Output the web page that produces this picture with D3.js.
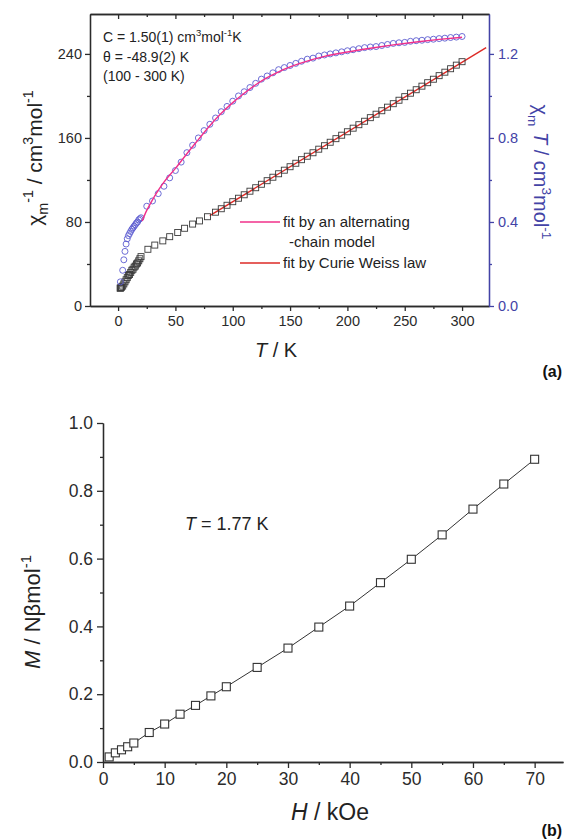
<!DOCTYPE html>
<html>
<head>
<meta charset="utf-8">
<script src="https://cdn.jsdelivr.net/npm/d3@7"></script>
<style>
  body { margin: 0; background: #fff; }
  text { font-family: Arial, "Liberation Sans", sans-serif; }
</style>
</head>
<body>
<div id="chart"></div>
<script>
// ---- panel (a): inverse susceptibility (squares) and chi*T (circles) vs T
const sqT = [1.8, 2, 2.5, 3, 4, 5, 6, 7, 8, 9, 10, 11, 12, 13, 14, 15, 16, 17, 18, 19, 20,
  26, 32, 39, 45, 52, 58, 65, 71, 78,
  85, 90, 95, 100, 105, 110, 115, 120, 125, 130, 135, 140, 145, 150, 155, 160, 165, 170, 175, 180,
  185, 190, 195, 200, 205, 210, 215, 220, 225, 230, 235, 240, 245, 250, 255, 260, 265, 270, 275, 280,
  285, 290, 295, 300]
const sqInv = [17, 17, 17.5, 18, 19, 21, 23, 25, 27, 29, 30, 32, 34, 35, 37, 38, 40, 41, 43, 45, 47,
  54, 58, 62, 66, 70, 74, 78, 81, 85,
  89.3, 92.6, 95.9, 99.3, 102.6, 105.9, 109.3, 112.6, 115.9, 119.3, 122.6, 125.9, 129.3, 132.6, 135.9,
  139.3, 142.6, 145.9, 149.3, 152.6, 155.9, 159.3, 162.6, 165.9, 169.3, 172.6, 175.9, 179.3, 182.6, 185.9,
  189.3, 192.6, 195.9, 199.3, 202.6, 205.9, 209.3, 212.6, 215.9, 219.3, 222.6, 225.9, 229.3, 232.6]

const ciT = [2, 4, 5, 6, 7, 8, 9, 10, 11, 12, 13, 14, 15, 16, 17, 18, 19, 20,
  25, 30, 35, 40, 45, 50, 55, 60, 65, 70, 75, 80, 85, 90, 95, 100, 105, 110, 115, 120,
  125, 130, 135, 140, 145, 150, 155, 160, 165, 170, 175, 180, 185, 190, 195, 200, 205, 210,
  215, 220, 225, 230, 235, 240, 245, 250, 255, 260, 265, 270, 275, 280, 285, 290, 295, 300]
const ciChiT = [0.115, 0.17, 0.22, 0.26, 0.295, 0.32, 0.335, 0.345, 0.355, 0.365, 0.372, 0.38, 0.387, 0.395, 0.40, 0.41, 0.415, 0.42,
  0.475, 0.50, 0.535, 0.57, 0.61, 0.645, 0.685, 0.73, 0.765, 0.80, 0.835, 0.865, 0.895, 0.925, 0.95, 0.975, 1.0, 1.02, 1.04, 1.06,
  1.08, 1.095, 1.11, 1.125, 1.135, 1.145, 1.155, 1.165, 1.175, 1.18, 1.19, 1.195, 1.20, 1.205, 1.21, 1.215, 1.22, 1.225,
  1.23, 1.233, 1.235, 1.24, 1.245, 1.25, 1.253, 1.255, 1.26, 1.263, 1.265, 1.268, 1.27, 1.273, 1.275, 1.278, 1.28, 1.283]

// alternating-chain fit (pink) and Curie-Weiss fit (red)
const fitT = [21, 25, 30, 35, 40, 50, 60, 70, 80, 90, 100, 110, 120, 130, 140, 150, 160, 180, 200, 220, 240, 260, 280, 300]
const fitChiT = [0.405, 0.455, 0.505, 0.55, 0.59, 0.655, 0.725, 0.792, 0.858, 0.917, 0.968, 1.013, 1.053, 1.087, 1.115, 1.138,
  1.157, 1.188, 1.209, 1.227, 1.243, 1.257, 1.269, 1.279]
const cwT = [80, 321]
const cwInv = [86, 246]

const tTicks = [0, 50, 100, 150, 200, 250, 300]
const tMinor = [25, 75, 125, 175, 225, 275]
const invTicks = [0, 80, 160, 240]
const invMinor = [40, 120, 200]
const chiTicks = [0, 0.4, 0.8, 1.2]
const chiMinor = [0.2, 0.6, 1.0]

// ---- panel (b): magnetization vs field at 1.77 K
const fieldH = [1, 2, 3, 4, 5, 7.5, 10, 12.5, 15, 17.5, 20, 25, 30, 35, 40, 45, 50, 55, 60, 65, 70]
const magM = [0.015, 0.027, 0.036, 0.045, 0.056, 0.087, 0.112, 0.141, 0.167, 0.195, 0.222, 0.279, 0.336, 0.398, 0.46, 0.529, 0.598, 0.67, 0.746, 0.82, 0.893]
const hTicks = [0, 10, 20, 30, 40, 50, 60, 70]
const hMinor = [5, 15, 25, 35, 45, 55, 65]
const mTicks = [0, 0.2, 0.4, 0.6, 0.8, 1.0]
const mMinor = [0.1, 0.3, 0.5, 0.7, 0.9]

const BLUE = "#4343a6"
const INK = "#2b2b2b"

const svg = d3.select("#chart").append("svg")
  .attr("width", 564).attr("height", 840)

// rich text: parts = [text, "sup"|"sub"|null, italic]
function rich(sel, parts, fs) {
  let off = 0
  parts.forEach(([s, kind, it]) => {
    const target = kind === "sup" ? -0.42 * fs : kind === "sub" ? 0.3 * fs : 0
    const t = sel.append("tspan").text(s).attr("dy", target - off)
    if (kind) t.attr("font-size", fs * 0.68)
    if (it) t.attr("font-style", "italic")
    off = target
  })
  return sel
}

function styleAxis(g, color, fs) {
  g.selectAll("path,line").attr("stroke", color).attr("stroke-width", 1.3)
  g.selectAll("text").attr("fill", color).attr("font-size", fs).attr("font-family", "Arial, 'Liberation Sans', sans-serif")
}

// ================= panel (a)
const x1 = d3.scaleLinear().domain([-24.5, 323.5]).range([90, 489])
const yL = d3.scaleLinear().domain([0, 278]).range([306, 14])
const yR = d3.scaleLinear().domain([0, 1.39]).range([306, 14])

const pa = svg.append("g")

// minor ticks first
pa.append("g").attr("transform", "translate(0,306)")
  .call(d3.axisBottom(x1).tickValues(tMinor).tickSize(3).tickFormat("").tickSizeOuter(0))
  .call(g => styleAxis(g, INK, 14))
pa.append("g").attr("transform", "translate(0,14)")
  .call(d3.axisBottom(x1).tickValues(tMinor).tickSize(3).tickFormat("").tickSizeOuter(0))
  .call(g => styleAxis(g, INK, 14))
pa.append("g").attr("transform", "translate(90,0)")
  .call(d3.axisLeft(yL).tickValues(invMinor).tickSize(3).tickFormat("").tickSizeOuter(0))
  .call(g => styleAxis(g, INK, 14))
pa.append("g").attr("transform", "translate(489,0)")
  .call(d3.axisRight(yR).tickValues(chiMinor).tickSize(3).tickFormat("").tickSizeOuter(0))
  .call(g => styleAxis(g, BLUE, 14))

pa.append("g").attr("transform", "translate(0,306)")
  .call(d3.axisBottom(x1).tickValues(tTicks).tickSize(5).tickPadding(5).tickSizeOuter(0))
  .call(g => styleAxis(g, INK, 14.5))
pa.append("g").attr("transform", "translate(0,14)")
  .call(d3.axisBottom(x1).tickValues(tTicks).tickSize(5).tickFormat("").tickSizeOuter(0))
  .call(g => styleAxis(g, INK, 14))
pa.append("g").attr("transform", "translate(90,0)")
  .call(d3.axisLeft(yL).tickValues(invTicks).tickSize(5).tickPadding(3).tickSizeOuter(0))
  .call(g => styleAxis(g, INK, 14.5))
pa.append("g").attr("transform", "translate(489,0)")
  .call(d3.axisRight(yR).tickValues(chiTicks).tickSize(5).tickPadding(4).tickSizeOuter(0).tickFormat(d3.format(".1f")))
  .call(g => styleAxis(g, BLUE, 14.5))

// Curie-Weiss fit
pa.append("path")
  .datum(cwT.map((t, i) => [t, cwInv[i]]))
  .attr("d", d3.line().x(d => x1(d[0])).y(d => yL(d[1])))
  .attr("fill", "none").attr("stroke", "#dd2a26").attr("stroke-width", 1.4)

// squares
pa.append("g").selectAll("rect")
  .data(sqT.map((t, i) => [t, sqInv[i]]))
  .join("rect")
  .attr("x", d => x1(d[0]) - 3).attr("y", d => yL(d[1]) - 3)
  .attr("width", 6).attr("height", 6)
  .attr("fill", "none").attr("stroke", "#3a3a3a").attr("stroke-width", 0.9)

// circles
pa.append("g").selectAll("circle")
  .data(ciT.map((t, i) => [t, ciChiT[i]]))
  .join("circle")
  .attr("cx", d => x1(d[0])).attr("cy", d => yR(d[1]))
  .attr("r", 3)
  .attr("fill", "none").attr("stroke", "#5c5cd0").attr("stroke-width", 0.9)

// alternating-chain fit
pa.append("path")
  .datum(fitT.map((t, i) => [t, fitChiT[i]]))
  .attr("d", d3.line().curve(d3.curveMonotoneX).x(d => x1(d[0])).y(d => yR(d[1])))
  .attr("fill", "none").attr("stroke", "#f0308a").attr("stroke-width", 1.4)

// annotation
const ann = pa.append("g").attr("font-size", 14).attr("fill", "#222")
rich(ann.append("text").attr("x", 103).attr("y", 42), [["C = 1.50(1) cm"], ["3", "sup"], ["mol"], ["-1", "sup"], ["K"]], 14)
ann.append("text").attr("x", 103).attr("y", 62).text("θ = -48.9(2) K")
ann.append("text").attr("x", 103).attr("y", 81).text("(100 - 300 K)")

// legend
const leg = pa.append("g").attr("font-size", 15).attr("fill", "#222")
leg.append("line").attr("x1", 240).attr("x2", 280).attr("y1", 222).attr("y2", 222)
  .attr("stroke", "#f0308a").attr("stroke-width", 1.4)
leg.append("text").attr("x", 283).attr("y", 227).text("fit by an alternating")
leg.append("text").attr("x", 289).attr("y", 247).text("-chain model")
leg.append("line").attr("x1", 240).attr("x2", 280).attr("y1", 263).attr("y2", 263)
  .attr("stroke", "#dd2a26").attr("stroke-width", 1.4)
leg.append("text").attr("x", 283).attr("y", 268).text("fit by Curie Weiss law")

// axis titles
rich(pa.append("text").attr("font-size", 20).attr("fill", "#222").attr("text-anchor", "middle")
  .attr("transform", "translate(276,357)"), [["T", null, true], [" / K"]], 20)
rich(pa.append("text").attr("font-size", 21).attr("fill", "#222").attr("text-anchor", "middle")
  .attr("transform", "translate(42,158) rotate(-90)"),
  [["χ"], ["m", "sub"], ["-1", "sup"], [" / cm"], ["3", "sup"], ["mol"], ["-1", "sup"]], 21)
rich(pa.append("text").attr("font-size", 20).attr("fill", BLUE).attr("text-anchor", "middle")
  .attr("transform", "translate(534,172) rotate(90)"),
  [["χ"], ["m", "sub"], [" T", null, true], [" / cm"], ["3", "sup"], ["mol"], ["-1", "sup"]], 20)

svg.append("text").attr("x", 562).attr("y", 377).attr("text-anchor", "end")
  .attr("font-family", "'Liberation Serif', 'DejaVu Serif', serif").attr("font-weight", "bold")
  .attr("font-size", 16).attr("fill", "#111").text("(a)")

// ================= panel (b)
const x2 = d3.scaleLinear().domain([0, 74.6]).range([103, 563])
const y2 = d3.scaleLinear().domain([0, 1]).range([762, 423])

const pb = svg.append("g")
pb.append("g").attr("transform", "translate(0,762)")
  .call(d3.axisBottom(x2).tickValues(hMinor).tickSize(3).tickFormat("").tickSizeOuter(0))
  .call(g => styleAxis(g, INK, 17))
pb.append("g").attr("transform", "translate(103,0)")
  .call(d3.axisLeft(y2).tickValues(mMinor).tickSize(3).tickFormat("").tickSizeOuter(0))
  .call(g => styleAxis(g, INK, 17))
pb.append("g").attr("transform", "translate(0,762)")
  .call(d3.axisBottom(x2).tickValues(hTicks).tickSize(6).tickPadding(5).tickSizeOuter(0))
  .call(g => styleAxis(g, INK, 17.5))
pb.append("g").attr("transform", "translate(103,0)")
  .call(d3.axisLeft(y2).tickValues(mTicks).tickSize(6).tickPadding(4).tickSizeOuter(0).tickFormat(d3.format(".1f")))
  .call(g => styleAxis(g, INK, 17.5))

const mPts = fieldH.map((h, i) => [h, magM[i]])
pb.append("path").datum(mPts)
  .attr("d", d3.line().x(d => x2(d[0])).y(d => y2(d[1])))
  .attr("fill", "none").attr("stroke", "#333").attr("stroke-width", 1)
pb.append("g").selectAll("rect")
  .data(mPts)
  .join("rect")
  .attr("x", d => x2(d[0]) - 4).attr("y", d => y2(d[1]) - 4)
  .attr("width", 8).attr("height", 8)
  .attr("fill", "#fff").attr("stroke", "#333").attr("stroke-width", 1.1)

rich(pb.append("text").attr("x", 185).attr("y", 530).attr("font-size", 18).attr("fill", "#222"),
  [["T", null, true], [" = 1.77 K"]], 18)

rich(pb.append("text").attr("font-size", 23).attr("fill", "#222").attr("text-anchor", "middle")
  .attr("transform", "translate(330,820)"), [["H", null, true], [" / kOe"]], 23)
rich(pb.append("text").attr("font-size", 22).attr("fill", "#222").attr("text-anchor", "middle")
  .attr("transform", "translate(40,612) rotate(-90)"),
  [["M", null, true], [" / Nβmol"], ["-1", "sup"]], 22)

svg.append("text").attr("x", 562).attr("y", 836).attr("text-anchor", "end")
  .attr("font-family", "'Liberation Serif', 'DejaVu Serif', serif").attr("font-weight", "bold")
  .attr("font-size", 16).attr("fill", "#111").text("(b)")
</script>
</body>
</html>
